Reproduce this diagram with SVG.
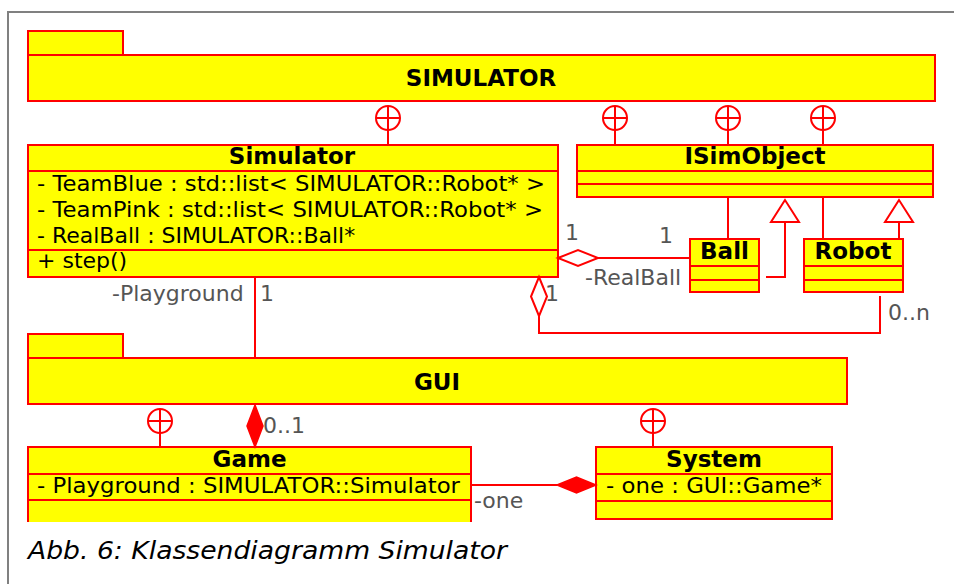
<svg xmlns="http://www.w3.org/2000/svg" width="954" height="584" viewBox="0 0 954 584">
<style>
.box{fill:#ffff00;stroke:#ff0000;stroke-width:2}
.ln{fill:none;stroke:#ff0000;stroke-width:2}
.t{font-family:"DejaVu Sans",sans-serif;font-size:22px;fill:#000}
.b{font-family:"DejaVu Sans",sans-serif;font-size:23px;font-weight:bold;fill:#000;text-anchor:middle}
.lbl{font-family:"DejaVu Sans",sans-serif;font-size:22px;fill:#555}
.nest{fill:#fff;stroke:#ff0000;stroke-width:2}
</style>
<defs>
<g id="nestc"><circle cx="0" cy="0" r="12" class="nest"/><line x1="-12" y1="0" x2="12" y2="0" class="ln"/></g>
</defs>
<rect x="0" y="0" width="954" height="584" fill="#fff"/>
<path d="M8 584 V12 H954" fill="none" stroke="#808080" stroke-width="2"/>

<g id="pkg-simulator">
<rect x="28" y="31" width="95" height="24" class="box"/>
<rect x="28" y="55" width="907" height="46" class="box"/>
<text x="481" y="86" class="b">SIMULATOR</text>
</g>

<g id="pkg-gui">
<rect x="28" y="334" width="95" height="24" class="box"/>
<rect x="28" y="358" width="819" height="46" class="box"/>
<text x="437" y="390" class="b">GUI</text>
</g>

<g id="cls-simulator">
<rect x="28" y="145" width="530" height="132" class="box"/>
<line x1="28" y1="171" x2="558" y2="171" class="ln"/>
<line x1="28" y1="250" x2="558" y2="250" class="ln"/>
<text x="292" y="164" class="b">Simulator</text>
<text x="37" y="191" class="t" textLength="508" lengthAdjust="spacingAndGlyphs">- TeamBlue : std::list&lt; SIMULATOR::Robot* &gt;</text>
<text x="37" y="217" class="t" textLength="506" lengthAdjust="spacingAndGlyphs">- TeamPink : std::list&lt; SIMULATOR::Robot* &gt;</text>
<text x="37" y="243" class="t">- RealBall : SIMULATOR::Ball*</text>
<text x="37" y="268" class="t">+ step()</text>
</g>

<g id="cls-isimobject">
<rect x="577" y="145" width="356" height="52" class="box"/>
<line x1="577" y1="171" x2="933" y2="171" class="ln"/>
<line x1="577" y1="184" x2="933" y2="184" class="ln"/>
<text x="755" y="164" class="b">ISimObject</text>
</g>

<g id="cls-ball">
<rect x="690" y="239" width="69" height="53" class="box"/>
<line x1="690" y1="266" x2="759" y2="266" class="ln"/>
<line x1="690" y1="280" x2="759" y2="280" class="ln"/>
<text x="724.5" y="259" class="b">Ball</text>
</g>

<g id="cls-robot">
<rect x="804" y="239" width="99" height="53" class="box"/>
<line x1="804" y1="266" x2="903" y2="266" class="ln"/>
<line x1="804" y1="280" x2="903" y2="280" class="ln"/>
<text x="853" y="259" class="b">Robot</text>
</g>

<g id="cls-game">
<rect x="28" y="447" width="443" height="75" fill="#ffff00"/>
<path d="M28 522 V447 H471 V522" class="ln"/>
<line x1="28" y1="474" x2="471" y2="474" class="ln"/>
<line x1="28" y1="500" x2="471" y2="500" class="ln"/>
<text x="249.5" y="467" class="b">Game</text>
<text x="37" y="493" class="t" textLength="423" lengthAdjust="spacingAndGlyphs">- Playground : SIMULATOR::Simulator</text>
</g>

<g id="cls-system">
<rect x="596" y="447" width="236" height="72" class="box"/>
<line x1="596" y1="474" x2="832" y2="474" class="ln"/>
<line x1="596" y1="501" x2="832" y2="501" class="ln"/>
<text x="714" y="467" class="b">System</text>
<text x="606" y="493" class="t" textLength="216" lengthAdjust="spacingAndGlyphs">- one : GUI::Game*</text>
</g>

<g id="connectors">
<use href="#nestc" x="388" y="118"/>
<line x1="388" y1="106" x2="388" y2="145" class="ln"/>
<use href="#nestc" x="615" y="118"/>
<line x1="615" y1="106" x2="615" y2="145" class="ln"/>
<use href="#nestc" x="728" y="118"/>
<line x1="728" y1="106" x2="728" y2="145" class="ln"/>
<use href="#nestc" x="823" y="118"/>
<line x1="823" y1="106" x2="823" y2="145" class="ln"/>
<use href="#nestc" x="160" y="421"/>
<line x1="160" y1="409" x2="160" y2="447" class="ln"/>
<use href="#nestc" x="653" y="421"/>
<line x1="653" y1="409" x2="653" y2="447" class="ln"/>

<line x1="728" y1="197" x2="728" y2="239" class="ln"/>
<line x1="823" y1="197" x2="823" y2="239" class="ln"/>
<path d="M766 277 H785 V222" class="ln"/>
<polygon points="785,200 771,222 799,222" fill="#fff" stroke="#ff0000" stroke-width="2"/>
<path d="M899 239 V222" class="ln"/>
<polygon points="899,200 885,222 913,222" fill="#fff" stroke="#ff0000" stroke-width="2"/>

<line x1="598" y1="258" x2="690" y2="258" class="ln"/>
<polygon points="558,258 578,250 598,258 578,266" fill="#fff" stroke="#ff0000" stroke-width="2"/>
<path d="M539 316 V333 H880 V296" class="ln"/>
<polygon points="539,277 547,296.5 539,316 531,296.5" fill="#fff" stroke="#ff0000" stroke-width="2"/>

<line x1="255" y1="277" x2="255" y2="358" class="ln"/>
<polygon points="255,405 263,426 255,447 247,426" fill="#ff0000" stroke="#ff0000" stroke-width="1.5"/>
<line x1="471" y1="485" x2="557" y2="485" class="ln"/>
<polygon points="557,485 576.5,477 596,485 576.5,493" fill="#ff0000" stroke="#ff0000" stroke-width="1.5"/>

<text x="565" y="240" class="lbl">1</text>
<text x="659" y="243" class="lbl">1</text>
<text x="585" y="285" class="lbl">-RealBall</text>
<text x="545" y="301" class="lbl">1</text>
<text x="888" y="320" class="lbl">0..n</text>
<text x="112" y="301" class="lbl">-Playground</text>
<text x="260" y="301" class="lbl">1</text>
<text x="263" y="433" class="lbl">0..1</text>
<text x="474" y="508" class="lbl">-one</text>
</g>

<text x="28" y="559" font-family="DejaVu Sans, sans-serif" font-style="italic" font-size="24" fill="#000" textLength="479" lengthAdjust="spacingAndGlyphs">Abb. 6: Klassendiagramm Simulator</text>
</svg>
